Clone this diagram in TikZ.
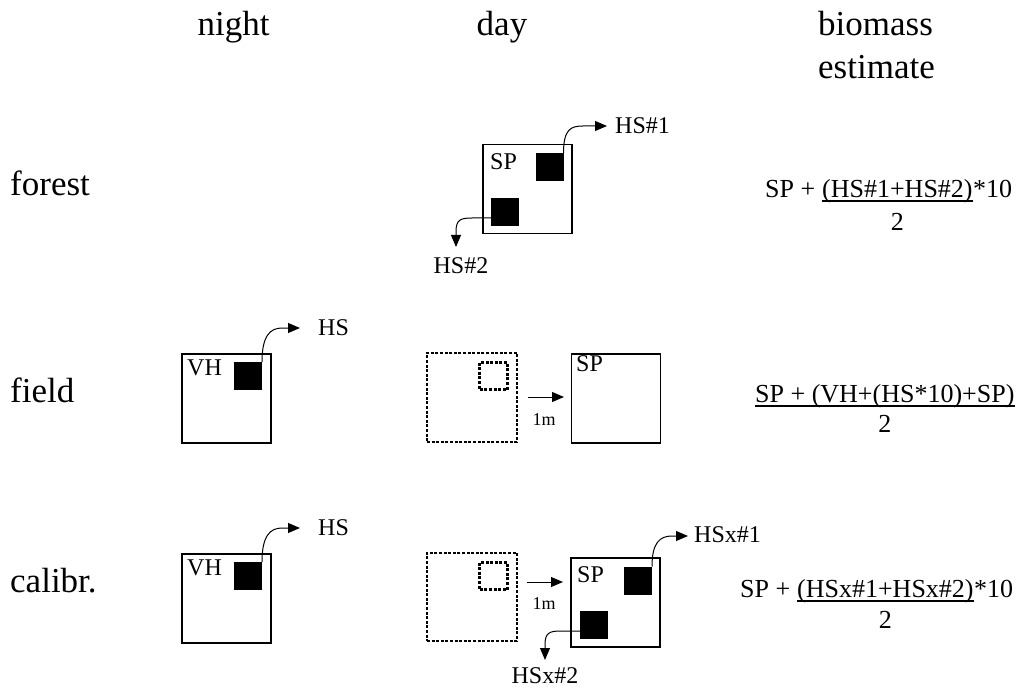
\documentclass[tikz,border=0pt]{standalone}
\usepackage{fontspec}
\setmainfont{Liberation Serif}
\usetikzlibrary{arrows.meta}
\begin{document}
\begin{tikzpicture}[x=1pt,y=-1pt,
  box/.style={draw, line width=1.2pt, minimum size=89pt, inner sep=0pt, outer sep=0pt},
  blk/.style={fill=black, minimum size=28pt, inner sep=0pt, outer sep=0pt},
  dotbox/.style={draw, line width=2.8pt, dash pattern=on 3pt off 1.6pt, inner sep=0pt, outer sep=0pt},
  dotsq/.style={dotbox, minimum size=27.5pt},
  conn/.style={line width=1pt, -{Triangle[length=12pt,width=10pt]}},
  uline/.style={line width=1.2pt},
  hdr/.style={font=\fontsize{35}{42}\selectfont, inner sep=0pt},
  lbl/.style={font=\fontsize{24}{28}\selectfont, inner sep=0pt},
  frm/.style={font=\fontsize{26}{30}\selectfont, inner sep=0pt},
  small/.style={font=\fontsize{18}{21}\selectfont, inner sep=0pt}]
\useasboundingbox (0,0) rectangle (1021,690);

% headers
\node[hdr, anchor=base] (hnight) at (233.5,36) {night};
\node[hdr, anchor=base] (hday) at (502,36) {day};
\node[hdr, anchor=base west] (hbio) at (818,36) {biomass};
\node[hdr, anchor=base west] (hest) at (818,79) {estimate};

% row labels
\node[hdr, anchor=base west] (rforest) at (10,196) {forest};
\node[hdr, anchor=base west] (rfield) at (10,402) {field};
\node[hdr, anchor=base west] (rcal) at (10,592) {calibr.};

% ---------- forest ----------
\node[box] (fbox) at (527.5,189) {};
\node[blk] (fsq1) at (549.5,167) {};
\node[blk] (fsq2) at (505,212) {};
\node[lbl, anchor=base west] (fsp) at (490,170) {SP};
\coordinate (fk1) at (583,126);
\coordinate (ft1) at (607,126);
\draw[conn] (fsq1.north east) .. controls +(0,-24) and +(-12,0) .. (fk1) -- (ft1);
\node[lbl, anchor=west] (fhs1) at (615,126) {HS\#1};
\coordinate (fk2) at (472,218);
\coordinate (fk3) at (456,232);
\coordinate (ft2) at (456,247);
\draw[conn] ([yshift=-6pt]fsq2.west) -- (fk2) .. controls +(-12,0) and +(0,-12) .. (fk3) -- (ft2);
\node[lbl] (fhs2) at (461,266) {HS\#2};

% ---------- field ----------
\node[box] (dvh) at (226.5,398.5) {};
\node[blk] (dsq) at (248,376) {};
\node[lbl, anchor=base west] (dvhl) at (187,375) {VH};
\coordinate (dk1) at (282,328);
\coordinate (dt1) at (300,328);
\draw[conn] (dsq.north east) .. controls +(0,-26) and +(-12,0) .. (dk1) -- (dt1);
\node[lbl, anchor=west] (dhs) at (318,328) {HS};
\node[dotbox, minimum width=90pt, minimum height=89pt] (ddot) at (472,397.5) {};
\node[dotsq] (ddsq) at (493.5,376) {};
\coordinate (da1) at (528,397);
\coordinate (da2) at (564,397);
\draw[conn] (da1) -- (da2);
\node[small] (d1m) at (544,420) {1m};
\node[box] (dspbox) at (616,398.5) {};
\node[lbl, anchor=base west] (dsp) at (576,371) {SP};
\node[frm, anchor=base west] (dfa) at (755,402) {SP + (VH+(HS*10)+SP)};
\draw[uline] ([yshift=-4pt]dfa.base west) -- ([yshift=-4pt]dfa.base east);
\node[frm, anchor=base] (dfd) at ([yshift=-30pt]dfa.base) {2};

% ---------- calibr ----------
\node[box] (cvh) at (226.5,598.5) {};
\node[blk] (csq) at (248,576) {};
\node[lbl, anchor=base west] (cvhl) at (187,575) {VH};
\coordinate (ck0) at (282,528);
\coordinate (ct0) at (300,528);
\draw[conn] (csq.north east) .. controls +(0,-26) and +(-12,0) .. (ck0) -- (ct0);
\node[lbl, anchor=west] (chs) at (318,528) {HS};
\node[dotbox, minimum width=90pt, minimum height=88pt] (cdot) at (472,597) {};
\node[dotsq] (cdsq) at (493.5,576) {};
\coordinate (ca1) at (527,582);
\coordinate (ca2) at (563,582);
\draw[conn] (ca1) -- (ca2);
\node[small] (c1m) at (544,604) {1m};
\node[box] (cspbox) at (615.5,602.5) {};
\node[blk] (csq1) at (638,580.5) {};
\node[blk] (csq2) at (594,625) {};
\node[lbl, anchor=base west] (csp) at (577,582) {SP};
\coordinate (ck1) at (672,536);
\coordinate (ct1) at (688,536);
\draw[conn] (csq1.north east) .. controls +(0,-24) and +(-12,0) .. (ck1) -- (ct1);
\node[lbl, anchor=west] (chs1) at (694,535) {HSx\#1};
\coordinate (ck2) at (561,631);
\coordinate (ck3) at (545,645);
\coordinate (ct2) at (545,660);
\draw[conn] ([yshift=-6pt]csq2.west) -- (ck2) .. controls +(-12,0) and +(0,-12) .. (ck3) -- (ct2);
\node[lbl] (chs2) at (545,676) {HSx\#2};

% ---------- formulas ----------
\node[frm, anchor=base west] (ffa) at (765,197) {SP +\kern0.25em};
\node[frm, anchor=base west] (ffb) at (ffa.base east) {(HS\#1+HS\#2)};
\node[frm, anchor=base west] (ffc) at (ffb.base east) {*10};
\draw[uline] ([yshift=-4pt]ffb.base west) -- ([yshift=-4pt]ffb.base east);
\node[frm, anchor=base] (ffd) at ([yshift=-33pt]ffb.base) {2};

\node[frm, anchor=base west] (cfa) at (740,597) {SP +\kern0.25em};
\node[frm, anchor=base west] (cfb) at (cfa.base east) {(HSx\#1+HSx\#2)};
\node[frm, anchor=base west] (cfc) at (cfb.base east) {*10};
\draw[uline] ([yshift=-4pt]cfb.base west) -- ([yshift=-4pt]cfb.base east);
\node[frm, anchor=base] (cfd) at ([yshift=-31pt]cfb.base) {2};
\end{tikzpicture}
\end{document}
